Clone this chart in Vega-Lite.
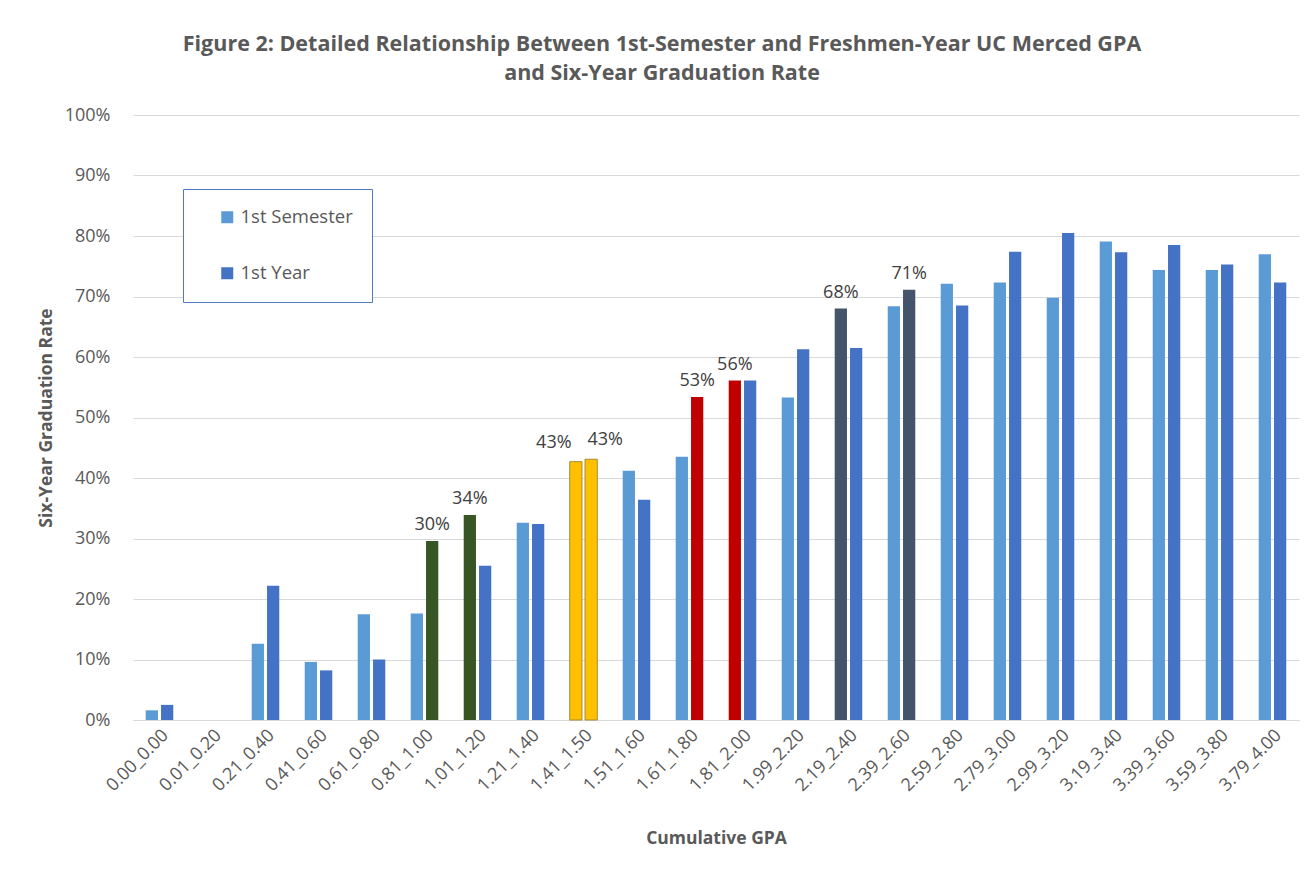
{
  "$schema": "https://vega.github.io/schema/vega-lite/v6.json",
  "width": 1166,
  "height": 605,
  "autosize": "none",
  "padding": {"left": 133, "top": 115, "right": 7, "bottom": 154},
  "background": "white",
  "title": {
    "text": ["Figure 2: Detailed Relationship Between 1st-Semester and Freshmen-Year UC Merced GPA", "and Six-Year Graduation Rate"],
    "font": "Open Sans",
    "fontSize": 21.5,
    "fontWeight": "bold",
    "color": "#595959",
    "anchor": "middle",
    "dx": -54,
    "offset": 22,
    "lineHeight": 29
  },
  "data": {
    "values": [
      {"gpa": "0.00_0.00", "series": "1st Semester", "rate": 0.016},
      {"gpa": "0.00_0.00", "series": "1st Year", "rate": 0.025},
      {"gpa": "0.01_0.20", "series": "1st Semester", "rate": 0},
      {"gpa": "0.01_0.20", "series": "1st Year", "rate": 0},
      {"gpa": "0.21_0.40", "series": "1st Semester", "rate": 0.126},
      {"gpa": "0.21_0.40", "series": "1st Year", "rate": 0.222},
      {"gpa": "0.41_0.60", "series": "1st Semester", "rate": 0.096},
      {"gpa": "0.41_0.60", "series": "1st Year", "rate": 0.082},
      {"gpa": "0.61_0.80", "series": "1st Semester", "rate": 0.175},
      {"gpa": "0.61_0.80", "series": "1st Year", "rate": 0.100},
      {"gpa": "0.81_1.00", "series": "1st Semester", "rate": 0.176},
      {"gpa": "0.81_1.00", "series": "1st Year", "rate": 0.296},
      {"gpa": "1.01_1.20", "series": "1st Semester", "rate": 0.339},
      {"gpa": "1.01_1.20", "series": "1st Year", "rate": 0.255},
      {"gpa": "1.21_1.40", "series": "1st Semester", "rate": 0.326},
      {"gpa": "1.21_1.40", "series": "1st Year", "rate": 0.324},
      {"gpa": "1.41_1.50", "series": "1st Semester", "rate": 0.427},
      {"gpa": "1.41_1.50", "series": "1st Year", "rate": 0.431},
      {"gpa": "1.51_1.60", "series": "1st Semester", "rate": 0.412},
      {"gpa": "1.51_1.60", "series": "1st Year", "rate": 0.364},
      {"gpa": "1.61_1.80", "series": "1st Semester", "rate": 0.435},
      {"gpa": "1.61_1.80", "series": "1st Year", "rate": 0.534},
      {"gpa": "1.81_2.00", "series": "1st Semester", "rate": 0.561},
      {"gpa": "1.81_2.00", "series": "1st Year", "rate": 0.561},
      {"gpa": "1.99_2.20", "series": "1st Semester", "rate": 0.533},
      {"gpa": "1.99_2.20", "series": "1st Year", "rate": 0.613},
      {"gpa": "2.19_2.40", "series": "1st Semester", "rate": 0.680},
      {"gpa": "2.19_2.40", "series": "1st Year", "rate": 0.615},
      {"gpa": "2.39_2.60", "series": "1st Semester", "rate": 0.684},
      {"gpa": "2.39_2.60", "series": "1st Year", "rate": 0.711},
      {"gpa": "2.59_2.80", "series": "1st Semester", "rate": 0.721},
      {"gpa": "2.59_2.80", "series": "1st Year", "rate": 0.685},
      {"gpa": "2.79_3.00", "series": "1st Semester", "rate": 0.723},
      {"gpa": "2.79_3.00", "series": "1st Year", "rate": 0.774},
      {"gpa": "2.99_3.20", "series": "1st Semester", "rate": 0.698},
      {"gpa": "2.99_3.20", "series": "1st Year", "rate": 0.805},
      {"gpa": "3.19_3.40", "series": "1st Semester", "rate": 0.791},
      {"gpa": "3.19_3.40", "series": "1st Year", "rate": 0.773},
      {"gpa": "3.39_3.60", "series": "1st Semester", "rate": 0.744},
      {"gpa": "3.39_3.60", "series": "1st Year", "rate": 0.785},
      {"gpa": "3.59_3.80", "series": "1st Semester", "rate": 0.744},
      {"gpa": "3.59_3.80", "series": "1st Year", "rate": 0.753},
      {"gpa": "3.79_4.00", "series": "1st Semester", "rate": 0.770},
      {"gpa": "3.79_4.00", "series": "1st Year", "rate": 0.723}
    ]
  },
  "encoding": {
    "x": {
      "field": "gpa",
      "type": "nominal",
      "sort": null,
      "scale": {"paddingInner": 0.48, "paddingOuter": 0.24},
      "title": "Cumulative GPA",
      "axis": {
        "labelAngle": -45,
        "labelFont": "Open Sans",
        "labelFontSize": 18,
        "labelColor": "#595959",
        "labelPadding": 6,
        "ticks": false,
        "grid": false,
        "domainColor": "#D9D9D9",
        "titleFont": "Open Sans",
        "titleFontSize": 17.5,
        "titleFontWeight": "bold",
        "titleColor": "#595959",
        "titlePadding": 35
      }
    },
    "xOffset": {
      "field": "series",
      "type": "nominal",
      "scale": {"domain": ["1st Semester", "1st Year"], "paddingInner": 0.2}
    },
    "y": {
      "field": "rate",
      "type": "quantitative",
      "scale": {"domain": [0, 1]},
      "title": "Six-Year Graduation Rate",
      "axis": {
        "values": [0, 0.1, 0.2, 0.3, 0.4, 0.5, 0.6, 0.7, 0.8, 0.9, 1],
        "format": ".0%",
        "grid": true,
        "gridColor": "#D9D9D9",
        "domain": false,
        "ticks": false,
        "labelFont": "Open Sans",
        "labelFontSize": 18,
        "labelColor": "#595959",
        "labelPadding": 23,
        "titleFont": "Open Sans",
        "titleFontSize": 17.5,
        "titleFontWeight": "bold",
        "titleColor": "#595959",
        "titlePadding": 9
      }
    }
  },
  "layer": [
    {
      "mark": {"type": "bar", "strokeWidth": 1},
      "encoding": {
        "color": {
          "field": "series",
          "type": "nominal",
          "scale": {"domain": ["1st Semester", "1st Year"], "range": ["#5B9BD5", "#4472C4"]},
          "condition": [
            {"test": "(datum.gpa == '0.81_1.00' && datum.series == '1st Year') || (datum.gpa == '1.01_1.20' && datum.series == '1st Semester')", "value": "#375623"},
            {"test": "datum.gpa == '1.41_1.50'", "value": "#FFC000"},
            {"test": "(datum.gpa == '1.61_1.80' && datum.series == '1st Year') || (datum.gpa == '1.81_2.00' && datum.series == '1st Semester')", "value": "#C00000"},
            {"test": "(datum.gpa == '2.19_2.40' && datum.series == '1st Semester') || (datum.gpa == '2.39_2.60' && datum.series == '1st Year')", "value": "#44546A"}
          ],
          "legend": {
            "orient": "none",
            "legendX": 50,
            "legendY": 74,
            "title": null,
            "strokeColor": "#4F78C8",
            "fillColor": "white",
            "padding": 19,
            "symbolType": "square",
            "symbolSize": 144,
            "symbolOffset": 16,
            "symbolStrokeWidth": 0,
            "labelFont": "Open Sans",
            "labelFontSize": 18.5,
            "labelColor": "#595959",
            "labelExpr": "datum.label + '\u00a0\u00a0'",
            "rowPadding": 37
          }
        },
        "stroke": {
          "condition": {"test": "datum.gpa == '1.41_1.50'", "value": "#A88A30"},
          "value": null
        }
      }
    },
    {
      "transform": [
        {"filter": "(datum.series == '1st Year' && indexof(['0.81_1.00', '1.61_1.80', '2.39_2.60'], datum.gpa) >= 0) || (datum.series == '1st Semester' && indexof(['1.01_1.20', '1.81_2.00', '2.19_2.40'], datum.gpa) >= 0)"}
      ],
      "mark": {"type": "text", "dy": -11, "baseline": "alphabetic", "font": "Open Sans", "fontSize": 18, "color": "#404040"},
      "encoding": {
        "text": {"field": "rate", "type": "quantitative", "format": ".0%"}
      }
    },
    {
      "transform": [
        {"filter": "datum.gpa == '1.41_1.50' && datum.series == '1st Semester'"}
      ],
      "mark": {"type": "text", "dy": -14, "dx": -22, "baseline": "alphabetic", "font": "Open Sans", "fontSize": 18, "color": "#404040"},
      "encoding": {
        "text": {"field": "rate", "type": "quantitative", "format": ".0%"}
      }
    },
    {
      "transform": [
        {"filter": "datum.gpa == '1.41_1.50' && datum.series == '1st Year'"}
      ],
      "mark": {"type": "text", "dy": -14, "dx": 14, "baseline": "alphabetic", "font": "Open Sans", "fontSize": 18, "color": "#404040"},
      "encoding": {
        "text": {"field": "rate", "type": "quantitative", "format": ".0%"}
      }
    }
  ],
  "config": {"view": {"stroke": null}}
}
